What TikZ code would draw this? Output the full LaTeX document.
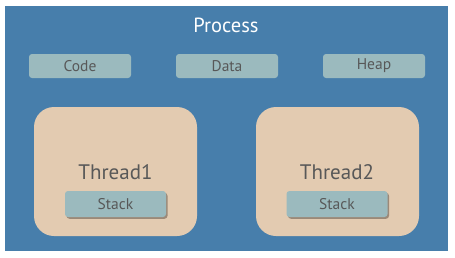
\documentclass[tikz,border=0pt]{standalone}
\usepackage{fontspec}
\setmainfont{PT Sans}
\usetikzlibrary{positioning,shadows}
\definecolor{procblue}{HTML}{477EAB}
\definecolor{segteal}{HTML}{9BBABE}
\definecolor{threadtan}{HTML}{E3CBB1}
\definecolor{txtgray}{HTML}{585858}
\definecolor{shadowbrown}{HTML}{7D6E60}
\begin{document}
\begin{tikzpicture}[x=1pt,y=-1pt,node distance=45pt,outer sep=0pt]
  \tikzstyle{seg}=[fill=segteal,rounded corners=3pt,minimum width=102pt,minimum height=24pt,text=txtgray,font=\fontsize{15.5}{15.5}\selectfont]
  \tikzstyle{thread}=[fill=threadtan,rounded corners=20pt,minimum width=163pt,minimum height=129pt]
  \tikzstyle{stackbox}=[seg,minimum width=101pt,minimum height=26pt,drop shadow={shadow xshift=1.5pt,shadow yshift=-1.8pt,fill=shadowbrown,opacity=0.7}]
  \tikzstyle{tlabel}=[text=txtgray,font=\fontsize{21}{21}\selectfont]
  \fill[white] (0,0) rectangle (455,257);
  \useasboundingbox (0,0) rectangle (455,257);
  \fill[procblue] (5,6) rectangle (448,251);
  \node[text=white,font=\fontsize{20.5}{20.5}\selectfont] (proc) at (226,25) {Process};
  \node[seg] (data) at (227,66) {Data};
  \node[seg,left=of data] (code) {Code};
  \node[seg,right=of data] (heap) {Heap};
  \node[thread] (t1) at (115.5,171.5) {};
  \node[thread,right=59pt of t1] (t2) {};
  \node[stackbox] (s1) at (115.5,204) {Stack};
  \node[stackbox] (s2) at (337,204) {Stack};
  \node[tlabel,above=8pt of s1] (l1) {Thread1};
  \node[tlabel,above=8pt of s2] (l2) {Thread2};
\end{tikzpicture}
\end{document}
